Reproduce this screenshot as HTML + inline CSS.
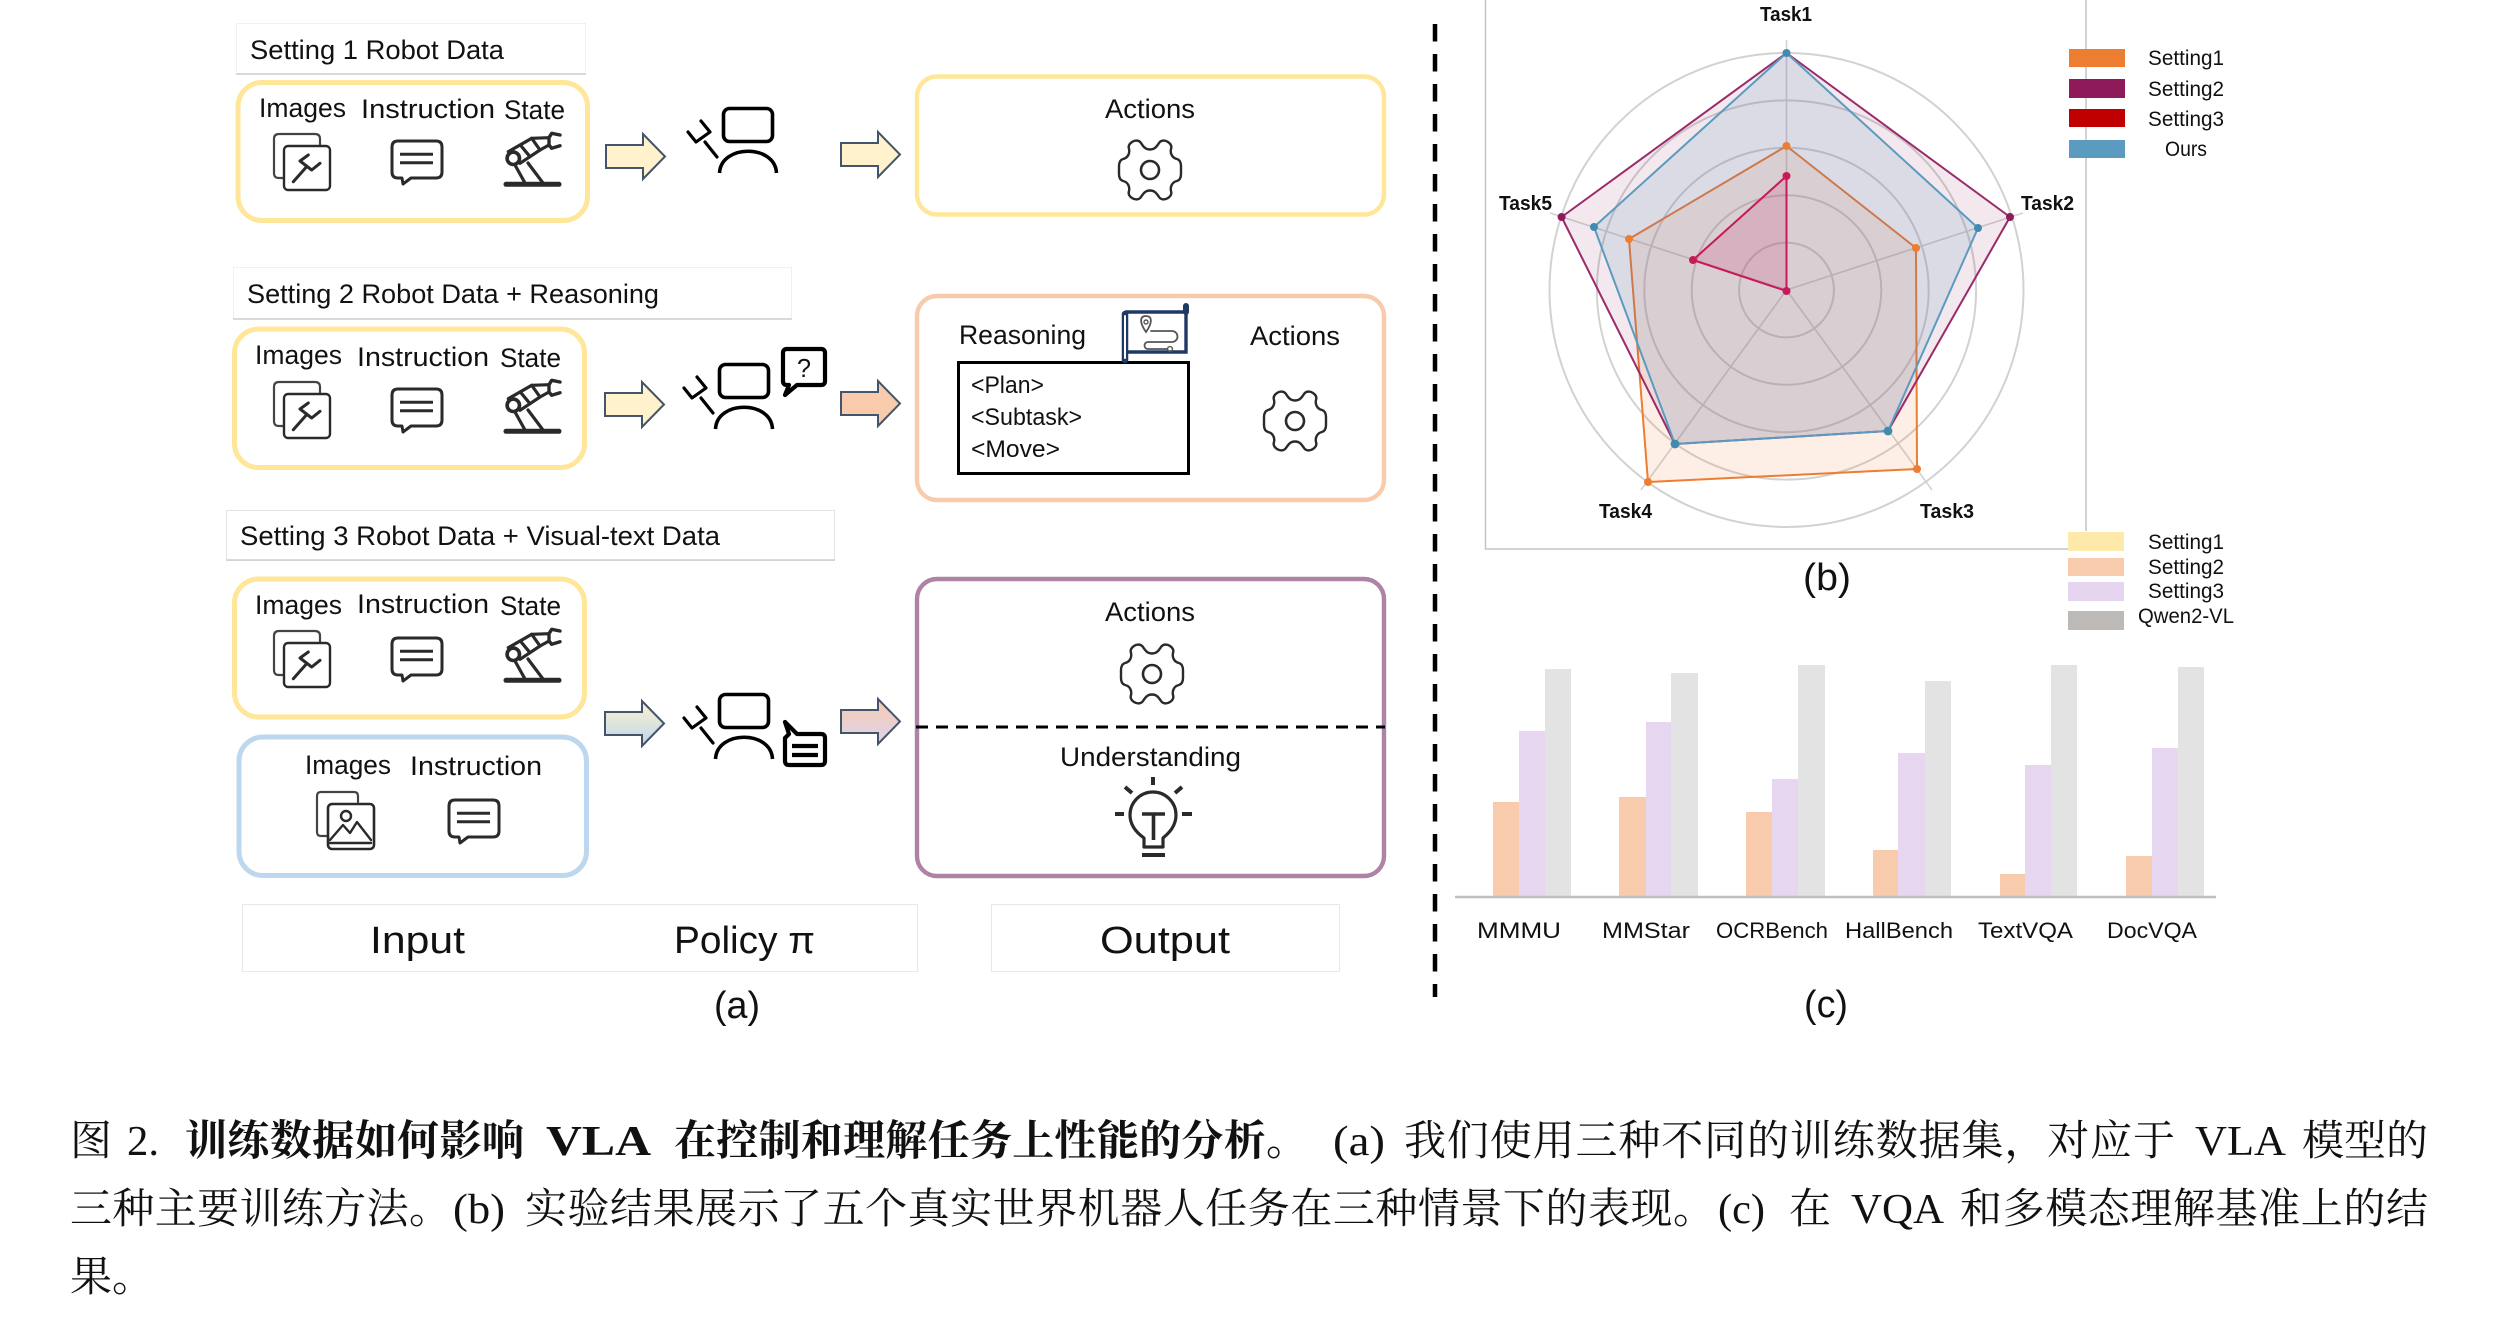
<!DOCTYPE html>
<html>
<head>
<meta charset="utf-8">
<style>
html,body{margin:0;padding:0;background:#fff;}
svg{display:block;}
.s{font-family:"Liberation Sans","Noto Sans CJK SC",sans-serif;fill:#111;}
.c{font-family:"Liberation Serif","Noto Serif CJK SC",serif;font-size:42px;fill:#111;}
.b{font-weight:700;}
.ic{fill:none;stroke:#2a2a2a;stroke-linejoin:round;stroke-linecap:round;}
</style>
</head>
<body>
<svg width="2498" height="1338" viewBox="0 0 2498 1338" xmlns="http://www.w3.org/2000/svg">
<defs>
<linearGradient id="gG" x1="0" y1="0" x2="0" y2="1"><stop offset="0" stop-color="#FFF2CC"/><stop offset="1" stop-color="#BDD7EE"/></linearGradient>
<linearGradient id="gP" x1="0" y1="0" x2="0" y2="1"><stop offset="0" stop-color="#F8CBAD"/><stop offset="1" stop-color="#DCD3F0"/></linearGradient>
<polygon id="ar" points="0,11 37,11 37,0 59,22.5 37,45 37,34 0,34" stroke="#44546A" stroke-width="2"/>
<g id="imgw" class="ic">
<path d="M10 45 H5 Q0 45 0 40 V6 Q0 1 5 1 H41 Q46 1 46 6 V13" stroke-width="2.2" stroke="#444"/>
<rect x="10" y="13" width="46" height="44" rx="4" stroke-width="2.4" fill="#fff"/>
<path d="M19.3 48.7 L31.7 34.7 M34.3 22 L26 28 L37.7 37 L46 30.3" stroke-width="3"/>
</g>
<g id="chat" class="ic">
<path d="M8 1 H46 Q52 1 52 7 V32 Q52 38 46 38 H21 L13 44 L12 38 H8 Q2 38 2 32 V7 Q2 1 8 1 Z" stroke-width="3" fill="#fff"/>
<path d="M10 14.3 H43 M10 22.7 H43" stroke-width="3" stroke-linecap="butt"/>
</g>
<g id="rob">
<g class="ic" stroke-width="3.2">
<path d="M3 52.3 H56" stroke-width="5"/>
<path d="M12 33 L22 51 M25 31 L40 51"/>
<path d="M5.3 19.7 L28.7 6.3 L37 18 L17 31.3"/>
<path d="M18.7 14.7 L27 24.7"/>
<circle cx="10.3" cy="26.3" r="6.2" stroke-width="3.6"/>
<path d="M28.7 6.3 L46 5.7 M37 18 L46 13"/>
<path d="M57 3 L48.7 1.3 L46 5.7 L46 13 L48.7 16.3 L57 13.7" stroke-width="3.4"/>
</g>
</g>
<g id="gear" class="ic">
<path d="M0 -20.5 C5 -20.5 7 -24 9 -27 C11 -30 15 -30 18 -28 C21 -26 22 -24 21 -21 C20 -17 22 -12 27 -11 C30 -10 31 -7 31 -4 L31 4 C31 7 30 10 27 11 C22 12 20 17 21 21 C22 24 21 26 18 28 C15 30 11 30 9 27 C7 24 5 20.5 0 20.5 C-5 20.5 -7 24 -9 27 C-11 30 -15 30 -18 28 C-21 26 -22 24 -21 21 C-20 17 -22 12 -27 11 C-30 10 -31 7 -31 4 L-31 -4 C-31 -7 -30 -10 -27 -11 C-22 -12 -20 -17 -21 -21 C-22 -24 -21 -26 -18 -28 C-15 -30 -11 -30 -9 -27 C-7 -24 -5 -20.5 0 -20.5 Z" stroke-width="2.4"/>
<circle cx="0" cy="0" r="9" stroke-width="2.6"/>
</g>
<g id="agent" class="ic" style="stroke:#000">
<rect x="1.5" y="1.5" width="49" height="33" rx="6" stroke-width="3.6" stroke="#000"/>
<path d="M-2.5 66 C-1 37 53 37 54.5 66" stroke-width="3.6" stroke="#000" stroke-linecap="butt"/>
<path d="M-5 50 L-17 35 M-21 14 L-12 25 L-26 35 L-34 25" stroke-width="3.2" stroke="#000"/>
</g>
</defs>

<!-- Setting titles -->
<rect x="236.5" y="23.5" width="349" height="50" fill="#fff" stroke="#f0f0f0"/>
<path d="M236 74 H586" stroke="#cfcfcf" stroke-width="1.5"/>
<text class="s" font-size="27" x="250" y="59" textLength="254" lengthAdjust="spacingAndGlyphs">Setting 1 Robot Data</text>
<rect x="233.5" y="267.5" width="558" height="51" fill="#fff" stroke="#f0f0f0"/>
<path d="M233 319 H792" stroke="#cfcfcf" stroke-width="1.5"/>
<text class="s" font-size="27" x="247" y="303" textLength="412" lengthAdjust="spacingAndGlyphs">Setting 2 Robot Data + Reasoning</text>
<rect x="226.5" y="510.5" width="608" height="50" fill="#fff" stroke="#e4e4e4"/>
<path d="M226 560 H835" stroke="#cfcfcf" stroke-width="1.5"/>
<text class="s" font-size="27" x="240" y="545" textLength="480" lengthAdjust="spacingAndGlyphs">Setting 3 Robot Data + Visual-text Data</text>

<!-- Input boxes -->
<g fill="none" stroke-width="5">
<rect x="238" y="82.5" width="349.5" height="138" rx="24" stroke="#FFE699"/>
<rect x="234.5" y="329" width="350" height="138.500" rx="24" stroke="#FFE699"/>
<rect x="234.500" y="579" width="350" height="138" rx="24" stroke="#FFE699"/>
<rect x="239" y="737" width="347.500" height="138.500" rx="24" stroke="#BDD7EE"/>
</g>

<!-- Labels -->
<g class="s" font-size="27">
<text x="259" y="117" textLength="87" lengthAdjust="spacingAndGlyphs">Images</text>
<text x="361" y="118" textLength="134" lengthAdjust="spacingAndGlyphs">Instruction</text>
<text x="504" y="119" textLength="61" lengthAdjust="spacingAndGlyphs">State</text>
<text x="255" y="364" textLength="87" lengthAdjust="spacingAndGlyphs">Images</text>
<text x="357" y="366" textLength="132" lengthAdjust="spacingAndGlyphs">Instruction</text>
<text x="500" y="367" textLength="61" lengthAdjust="spacingAndGlyphs">State</text>
<text x="255" y="614" textLength="87" lengthAdjust="spacingAndGlyphs">Images</text>
<text x="357" y="613" textLength="132" lengthAdjust="spacingAndGlyphs">Instruction</text>
<text x="500" y="615" textLength="61" lengthAdjust="spacingAndGlyphs">State</text>
<text x="305" y="774" textLength="86" lengthAdjust="spacingAndGlyphs">Images</text>
<text x="410" y="775" textLength="132" lengthAdjust="spacingAndGlyphs">Instruction</text>
</g>

<!-- Icons -->
<use href="#imgw" transform="translate(274,133)"/>
<use href="#chat" transform="translate(390,140)"/>
<use href="#rob" transform="translate(503,132)"/>
<use href="#imgw" transform="translate(274,381)"/>
<use href="#chat" transform="translate(390,388)"/>
<use href="#rob" transform="translate(503,379)"/>
<use href="#imgw" transform="translate(274,630)"/>
<use href="#chat" transform="translate(390,637)"/>
<use href="#rob" transform="translate(503,628)"/>
<g class="ic" transform="translate(317,792)">
<path d="M10 44 H4 Q0 44 0 40 V4 Q0 0 4 0 H37 Q41 0 41 4 V10" stroke-width="2.2" stroke="#444"/>
<rect x="11" y="12" width="46" height="45" rx="4" stroke-width="2.6" fill="#fff"/>
<circle cx="29" cy="24" r="5" stroke-width="2.4"/>
<path d="M13 48 L26 33 L33 41 L40 30 L54 48 M13 51 H54" stroke-width="2.4"/>
</g>
<use href="#chat" transform="translate(447,799)"/>

<!-- Arrows -->
<use href="#ar" transform="translate(606,134)" fill="#FFF2CC"/>
<use href="#ar" transform="translate(841,132)" fill="#FFF2CC"/>
<use href="#ar" transform="translate(605,382)" fill="#FFF2CC"/>
<use href="#ar" transform="translate(841,381)" fill="#F8CBAD"/>
<use href="#ar" transform="translate(605,701)" fill="url(#gG)"/>
<use href="#ar" transform="translate(841,699)" fill="url(#gP)"/>

<!-- Agents -->
<use href="#agent" transform="translate(722,107)"/>
<use href="#agent" transform="translate(718,363)"/>
<use href="#agent" transform="translate(718,693)"/>
<path d="M787 349 H821 Q825 349 825 353 V381 Q825 385 821 385 H797 L785 395 L789 385 H787 Q783 385 783 381 V353 Q783 349 787 349 Z" fill="#fff" stroke="#000" stroke-width="4.2" stroke-linejoin="round"/>
<text class="s" font-size="26" x="797" y="377" textLength="14" lengthAdjust="spacingAndGlyphs">?</text>
<path d="M789 734 L785 722 L797 734 H821 Q825 734 825 738 V761 Q825 765 821 765 H789 Q785 765 785 761 V738 Z" fill="#fff" stroke="#000" stroke-width="4.2" stroke-linejoin="round"/>
<path d="M792 746 H818 M792 755 H818" stroke="#000" stroke-width="4.2"/>

<!-- Output boxes -->
<g fill="none" stroke-width="4.4">
<rect x="917" y="76.500" width="467" height="138" rx="20" stroke="#FFE699"/>
<rect x="917" y="296" width="467" height="204" rx="20" stroke="#F8CBAD"/>
<rect x="917" y="579" width="467" height="297" rx="20" stroke="#AE83A6"/>
</g>
<path d="M916 727 H1385" stroke="#000" stroke-width="3" stroke-dasharray="12 8"/>

<g class="s" font-size="27">
<text x="1105" y="118" textLength="90" lengthAdjust="spacingAndGlyphs">Actions</text>
<text x="959" y="344" textLength="127" lengthAdjust="spacingAndGlyphs">Reasoning</text>
<text x="1250" y="345" textLength="90" lengthAdjust="spacingAndGlyphs">Actions</text>
<text x="1105" y="621" textLength="90" lengthAdjust="spacingAndGlyphs">Actions</text>
<text x="1060" y="766" textLength="181" lengthAdjust="spacingAndGlyphs">Understanding</text>
<text x="971" y="393" font-size="24" textLength="73" lengthAdjust="spacingAndGlyphs">&lt;Plan&gt;</text>
<text x="971" y="425" font-size="24" textLength="111" lengthAdjust="spacingAndGlyphs">&lt;Subtask&gt;</text>
<text x="971" y="457" font-size="24" textLength="89" lengthAdjust="spacingAndGlyphs">&lt;Move&gt;</text>
</g>
<rect x="958.500" y="362.500" width="230" height="111" fill="none" stroke="#000" stroke-width="3"/>

<use href="#gear" transform="translate(1150,170)"/>
<use href="#gear" transform="translate(1295,421)"/>
<use href="#gear" transform="translate(1152,674)"/>

<!-- Scroll icon -->
<g fill="none" stroke="#1F3864" stroke-linecap="round">
<path d="M1126 312 H1186 V352 H1128" stroke-width="3.4"/>
<path d="M1125 314 V360" stroke-width="6.5"/>
<path d="M1125 316 V358" stroke-width="2" stroke="#fff"/>
<path d="M1186 306 V312" stroke-width="6"/>
<path d="M1146 332 C1139 322 1140 316 1146 316 C1152 316 1153 322 1146 332 Z" stroke-width="1.8" stroke="#555"/>
<circle cx="1146" cy="322" r="2" stroke-width="1.4" stroke="#555"/>
<path d="M1151 331 H1172 A5.500 5.500 0 0 1 1172 342 H1148 A3.500 3.500 0 0 0 1148 349 H1167" stroke-width="1.8" stroke="#555"/>
<circle cx="1170" cy="349" r="2.4" stroke-width="1.4" stroke="#555"/>
</g>

<!-- Bulb -->
<g class="ic" stroke-width="3.2">
<path d="M1153 777 V785 M1125 787 L1132 793 M1182 787 L1175 793 M1115 814 H1124 M1182 814 H1192" stroke-width="4" stroke-linecap="butt"/>
<path d="M1144 847 V838 C1137 833 1130 826 1130 815 A23 23 0 1 1 1176 815 C1176 826 1169 833 1163 838 V847 Z"/>
<path d="M1142 814 H1165 M1153.500 814 V840" stroke-width="3.6" stroke-linecap="butt"/>
<path d="M1142 855 H1165" stroke-width="4" stroke-linecap="butt"/>
</g>

<!-- Bottom boxes -->
<rect x="242.500" y="904.500" width="675" height="67" fill="#fff" stroke="#e8e8e8"/>
<rect x="991.500" y="904.500" width="348" height="67" fill="#fff" stroke="#e8e8e8"/>
<g class="s" font-size="38">
<text x="370" y="953" textLength="95" lengthAdjust="spacingAndGlyphs">Input</text>
<text x="674" y="953" textLength="141" lengthAdjust="spacingAndGlyphs">Policy π</text>
<text x="1100" y="953" textLength="130" lengthAdjust="spacingAndGlyphs">Output</text>
<text x="714" y="1018" textLength="46" lengthAdjust="spacingAndGlyphs">(a)</text>
<text x="1803" y="590" textLength="48" lengthAdjust="spacingAndGlyphs">(b)</text>
<text x="1804" y="1017" textLength="44" lengthAdjust="spacingAndGlyphs">(c)</text>
</g>

<!-- Divider -->
<path d="M1435 24 V997" stroke="#000" stroke-width="4.500" stroke-dasharray="17.500 12.500"/>

<!-- Radar frame -->
<path d="M1485.500 0 V549 H2068 M2086 0 V531" fill="none" stroke="#c4c4c4" stroke-width="1.500"/>
<g fill="none" stroke="#d2d2d2" stroke-width="2">
<circle cx="1786.500" cy="290" r="47.400"/>
<circle cx="1786.500" cy="290" r="94.800"/>
<circle cx="1786.500" cy="290" r="142.200"/>
<circle cx="1786.500" cy="290" r="189.600"/>
<circle cx="1786.500" cy="290" r="237"/>
<path d="M1786.500 290 V40 M1786.500 290 L2023 213 M1786.500 290 L1932 490 M1786.500 290 L1641 490 M1786.500 290 L1550 213" stroke-width="1.600"/>
</g>
<polygon points="1786.500,146 1916,248 1917,469 1648,482 1629,239" fill="#ED7D31" fill-opacity=".12" stroke="#ED7D31" stroke-width="2" stroke-linejoin="round"/>
<polygon points="1786.500,53 2010,217 1888,431 1675,444 1561.600,217" fill="#8E1A5A" fill-opacity=".1" stroke="#9A2A68" stroke-width="2" stroke-linejoin="round"/>
<polygon points="1786.500,53 1978,228 1888,431 1675,444 1594,227" fill="#5B9BBF" fill-opacity=".16" stroke="#5B9BBF" stroke-width="2" stroke-linejoin="round"/>
<polygon points="1786.500,176 1786.500,291 1693,260" fill="#C8195A" fill-opacity=".16" stroke="#C8195A" stroke-width="2" stroke-linejoin="round"/>
<g fill="#ED7D31"><circle cx="1786.500" cy="146" r="4"/><circle cx="1916" cy="248" r="4"/><circle cx="1917" cy="469" r="4"/><circle cx="1648" cy="482" r="4"/><circle cx="1629" cy="239" r="4"/></g>
<g fill="#8E1A5A"><circle cx="2010" cy="217" r="4"/><circle cx="1561.600" cy="217" r="4"/></g>
<g fill="#3F8CB0"><circle cx="1786.500" cy="53" r="4"/><circle cx="1978" cy="228" r="4"/><circle cx="1888" cy="431" r="4.400"/><circle cx="1675" cy="444" r="4.400"/><circle cx="1594" cy="227" r="4"/></g>
<g fill="#C8195A"><circle cx="1786.500" cy="176" r="4"/><circle cx="1786.500" cy="291" r="4"/><circle cx="1693" cy="260" r="4"/></g>
<g class="s b" font-size="20">
<text x="1760" y="21" textLength="52" lengthAdjust="spacingAndGlyphs">Task1</text>
<text x="2021" y="210" textLength="53" lengthAdjust="spacingAndGlyphs">Task2</text>
<text x="1920" y="518" textLength="54" lengthAdjust="spacingAndGlyphs">Task3</text>
<text x="1599" y="518" textLength="53" lengthAdjust="spacingAndGlyphs">Task4</text>
<text x="1499" y="210" textLength="53" lengthAdjust="spacingAndGlyphs">Task5</text>
</g>

<!-- Legend 1 -->
<rect x="2069" y="49" width="56" height="18" fill="#ED7D31"/>
<rect x="2069" y="79" width="56" height="19" fill="#8E1A5A"/>
<rect x="2069" y="109" width="56" height="18" fill="#C00000"/>
<rect x="2069" y="140" width="56" height="18" fill="#5B9BBF"/>
<g class="s" font-size="21">
<text x="2148" y="65" textLength="76" lengthAdjust="spacingAndGlyphs">Setting1</text>
<text x="2148" y="96" textLength="76" lengthAdjust="spacingAndGlyphs">Setting2</text>
<text x="2148" y="126" textLength="76" lengthAdjust="spacingAndGlyphs">Setting3</text>
<text x="2165" y="156" textLength="42" lengthAdjust="spacingAndGlyphs">Ours</text>
</g>

<!-- Legend 2 -->
<rect x="2068" y="532" width="56" height="19" fill="#FDE9A9"/>
<rect x="2068" y="558" width="56" height="18" fill="#F8CBAD"/>
<rect x="2068" y="582" width="56" height="19" fill="#E6D5EE"/>
<rect x="2068" y="611" width="56" height="19" fill="#BDB9B7"/>
<g class="s" font-size="21">
<text x="2148" y="549" textLength="76" lengthAdjust="spacingAndGlyphs">Setting1</text>
<text x="2148" y="574" textLength="76" lengthAdjust="spacingAndGlyphs">Setting2</text>
<text x="2148" y="598" textLength="76" lengthAdjust="spacingAndGlyphs">Setting3</text>
<text x="2138" y="623" textLength="96" lengthAdjust="spacingAndGlyphs">Qwen2-VL</text>
</g>

<!-- Bars -->
<g fill="#F8CBAD">
<rect x="1493" y="802" width="26" height="95"/>
<rect x="1619" y="797" width="27" height="100"/>
<rect x="1746" y="812" width="26" height="85"/>
<rect x="1873" y="850" width="25" height="47"/>
<rect x="2000" y="874" width="25" height="23"/>
<rect x="2126" y="856" width="26" height="41"/>
</g>
<g fill="#E7D6F0">
<rect x="1519" y="731" width="26" height="166"/>
<rect x="1646" y="722" width="25" height="175"/>
<rect x="1772" y="779" width="26" height="118"/>
<rect x="1898" y="753" width="27" height="144"/>
<rect x="2025" y="765" width="26" height="132"/>
<rect x="2152" y="748" width="26" height="149"/>
</g>
<g fill="#E3E3E3">
<rect x="1545" y="669" width="26" height="228"/>
<rect x="1671" y="673" width="27" height="224"/>
<rect x="1798" y="665" width="27" height="232"/>
<rect x="1925" y="681" width="26" height="216"/>
<rect x="2051" y="665" width="26" height="232"/>
<rect x="2178" y="667" width="26" height="230"/>
</g>
<path d="M1455 897 H2216" stroke="#BFBFBF" stroke-width="2.400"/>
<g class="s" font-size="22">
<text x="1477" y="938" textLength="84" lengthAdjust="spacingAndGlyphs">MMMU</text>
<text x="1602" y="938" textLength="88" lengthAdjust="spacingAndGlyphs">MMStar</text>
<text x="1716" y="938" textLength="112" lengthAdjust="spacingAndGlyphs">OCRBench</text>
<text x="1845" y="938" textLength="108" lengthAdjust="spacingAndGlyphs">HallBench</text>
<text x="1978" y="938" textLength="95" lengthAdjust="spacingAndGlyphs">TextVQA</text>
<text x="2107" y="938" textLength="90" lengthAdjust="spacingAndGlyphs">DocVQA</text>
</g>

<!-- Caption -->
<g class="c">
<text x="70" y="1155">图</text>
<text x="127" y="1155" textLength="32" lengthAdjust="spacingAndGlyphs">2.</text>
<text class="b" x="185" y="1155" textLength="339" lengthAdjust="spacing">训练数据如何影响</text>
<text class="b" x="546" y="1155" textLength="105" lengthAdjust="spacingAndGlyphs">VLA</text>
<text class="b" x="674" y="1155" textLength="634" lengthAdjust="spacing">在控制和理解任务上性能的分析。</text>
<text x="1333" y="1155" textLength="52" lengthAdjust="spacingAndGlyphs">(a)</text>
<text x="1404" y="1155" textLength="771" lengthAdjust="spacing">我们使用三种不同的训练数据集，对应于</text>
<text x="2195" y="1155" textLength="91" lengthAdjust="spacingAndGlyphs">VLA</text>
<text x="2302" y="1155" textLength="126" lengthAdjust="spacing">模型的</text>
<text x="70" y="1223" textLength="381" lengthAdjust="spacing">三种主要训练方法。</text>
<text x="453" y="1223" textLength="52" lengthAdjust="spacingAndGlyphs">(b)</text>
<text x="525" y="1223" textLength="1190" lengthAdjust="spacing">实验结果展示了五个真实世界机器人任务在三种情景下的表现。</text>
<text x="1718" y="1223" textLength="47" lengthAdjust="spacingAndGlyphs">(c)</text>
<text x="1789" y="1223">在</text>
<text x="1851" y="1223" textLength="93" lengthAdjust="spacingAndGlyphs">VQA</text>
<text x="1960" y="1223" textLength="468" lengthAdjust="spacing">和多模态理解基准上的结</text>
<text x="70" y="1291" textLength="84" lengthAdjust="spacing">果。</text>
</g>
</svg>
</body>
</html>
